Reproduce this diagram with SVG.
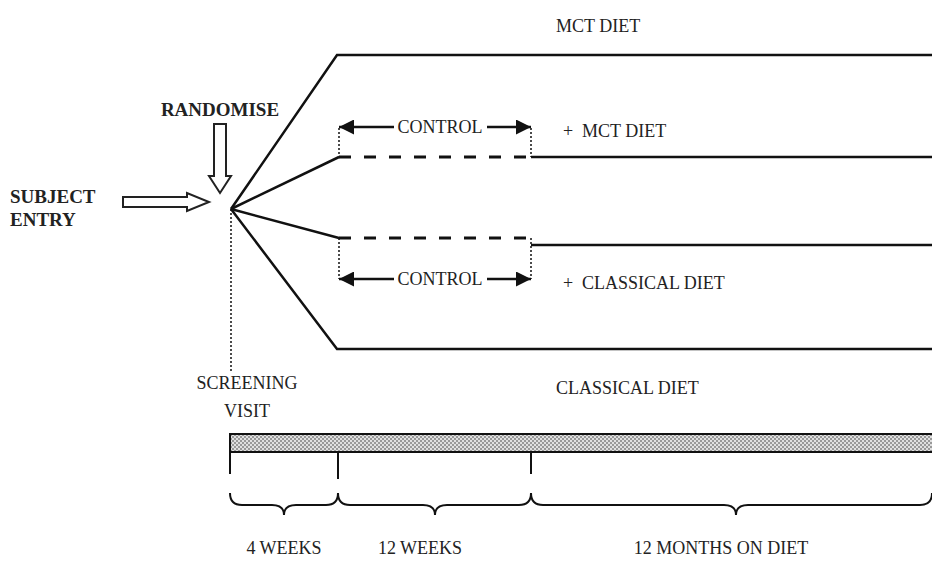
<svg xmlns="http://www.w3.org/2000/svg" width="932" height="568" viewBox="0 0 932 568">
<style>
.t{font-family:"Liberation Serif","Times New Roman",serif;font-size:18px;fill:#222}
.b{font-family:"Liberation Serif","Times New Roman",serif;font-size:19px;font-weight:bold;fill:#222}
.ln{fill:none;stroke:#111;stroke-width:2.5}
.dash{fill:none;stroke:#111;stroke-width:3;stroke-dasharray:12,13}
.dot{fill:none;stroke:#111;stroke-width:1.5;stroke-dasharray:2,2}
.hollow{fill:#fff;stroke:#222;stroke-width:2}
.br{fill:none;stroke:#111;stroke-width:2}
</style>
<defs>
<pattern id="chk" width="4" height="4" patternUnits="userSpaceOnUse">
<rect width="4" height="4" fill="#e0e0e0"/>
<rect width="2" height="2" fill="#999"/>
<rect x="2" y="2" width="2" height="2" fill="#999"/>
</pattern>
<marker id="ah" viewBox="0 0 10 10" refX="10" refY="5" markerWidth="19" markerHeight="15" markerUnits="userSpaceOnUse" orient="auto-start-reverse">
<path d="M0,0 L10,5 L0,10 z" fill="#111"/>
</marker>
</defs>

<g id="connectors">
<path class="ln" d="M231,209 L337,55 L932,55"/>
<path class="ln" d="M231,209 L337,349 L932,349"/>
<path class="ln" d="M231,209 L339,157"/>
<path class="dash" d="M339,157 L531,157"/>
<path class="ln" d="M531,157 L932,157"/>
<path class="ln" d="M231,209 L339,238"/>
<path class="dash" d="M339,238 L531,238"/>
<path class="ln" d="M531,245 L932,245"/>
<path class="dot" d="M339,128 L339,157 M531,128 L531,157"/>
<path class="dot" d="M339,238 L339,279 M531,238 L531,279"/>
<path class="dot" d="M231,209 L231,372"/>
</g>

<g id="control-top">
<path class="ln" d="M339,127 L394,127" marker-start="url(#ah)"/>
<path class="ln" d="M487,127 L531,127" marker-end="url(#ah)"/>
<text class="t" x="440" y="133" text-anchor="middle">CONTROL</text>
</g>
<g id="control-bottom">
<path class="ln" d="M339,279 L394,279" marker-start="url(#ah)"/>
<path class="ln" d="M487,279 L531,279" marker-end="url(#ah)"/>
<text class="t" x="440" y="285" text-anchor="middle">CONTROL</text>
</g>

<g id="randomise">
<text class="b" x="220" y="116" text-anchor="middle">RANDOMISE</text>
<path class="hollow" d="M214,124 L226,124 L226,176 L231,176 L220,193 L209,176 L214,176 z"/>
</g>
<g id="subject-entry">
<text class="b" x="10" y="203">SUBJECT</text>
<text class="b" x="10" y="226">ENTRY</text>
<path class="hollow" d="M123,197 L187,197 L187,193 L209,202 L187,211 L187,207 L123,207 z"/>
</g>

<g id="labels">
<text class="t" x="556" y="32">MCT DIET</text>
<text class="t" y="137"><tspan x="563">+</tspan><tspan x="582">MCT DIET</tspan></text>
<text class="t" y="289"><tspan x="563">+</tspan><tspan x="582">CLASSICAL DIET</tspan></text>
<text class="t" x="556" y="394">CLASSICAL DIET</text>
<text class="t" x="247" y="389" text-anchor="middle">SCREENING</text>
<text class="t" x="247" y="417" text-anchor="middle">VISIT</text>
</g>

<g id="timeline">
<rect x="230" y="434" width="704" height="18" fill="url(#chk)" stroke="#111" stroke-width="2"/>
<path class="br" d="M230,452 L230,474 M338,452 L338,479 M531,452 L531,474"/>
<path class="br" d="M230,493 Q230,505 242,505 L272,505 Q284,505 284,515 Q284,505 296,505 L326,505 Q338,505 338,493"/>
<path class="br" d="M338,493 Q338,505 350,505 L423,505 Q435,505 435,515 Q435,505 447,505 L519,505 Q531,505 531,493"/>
<path class="br" d="M531,493 Q531,505 543,505 L724,505 Q736,505 736,515 Q736,505 748,505 L920,505 Q932,505 932,493"/>
<text class="t" x="284" y="554" text-anchor="middle">4 WEEKS</text>
<text class="t" x="420" y="554" text-anchor="middle">12 WEEKS</text>
<text class="t" x="721" y="554" text-anchor="middle">12 MONTHS ON DIET</text>
</g>
</svg>
